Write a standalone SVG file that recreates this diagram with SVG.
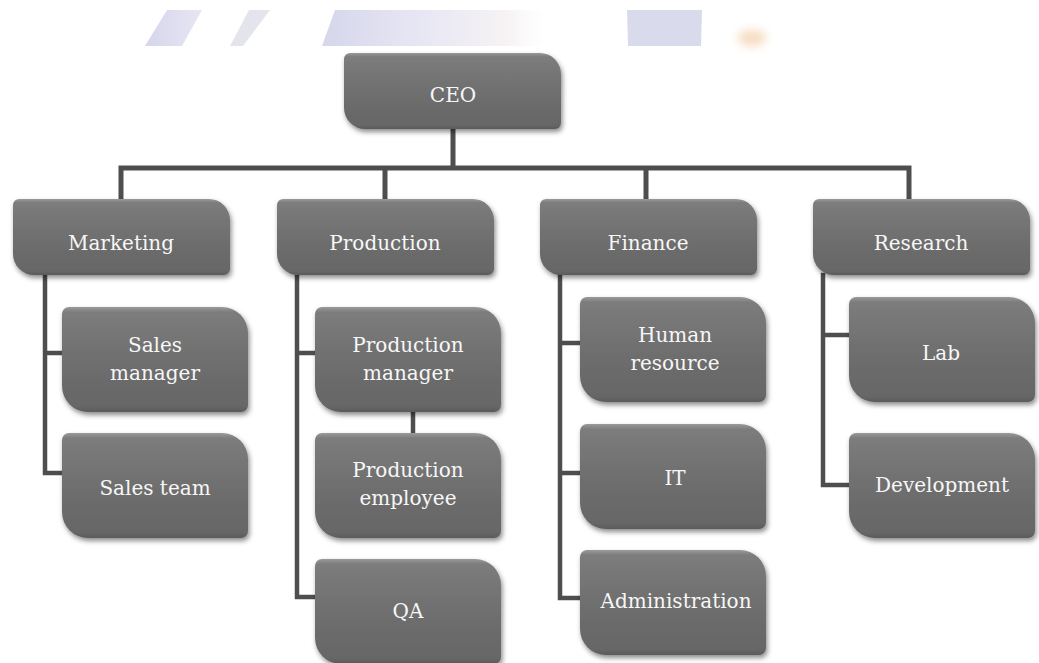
<svg xmlns="http://www.w3.org/2000/svg" xmlns:xlink="http://www.w3.org/1999/xlink" width="1039" height="663" viewBox="0 0 1039 663">
  <style>
    .lbl { font-family: "DejaVu Serif", "Liberation Serif", serif; font-size: 20px; fill: #f7f7f7; text-anchor: middle; }
    .box { fill: url(#boxFill); filter: url(#shadow); }
    .link { fill: none; stroke: #4e4e4e; stroke-width: 5; stroke-linecap: square; stroke-linejoin: miter; }
    .sublink { stroke-width: 4.5; }
  </style>
  <defs>
    <linearGradient id="boxFill" x1="0" y1="0" x2="0" y2="1">
      <stop offset="0" stop-color="#9a9a9a"/>
      <stop offset="0.05" stop-color="#7c7c7c"/>
      <stop offset="0.5" stop-color="#6f6f6f"/>
      <stop offset="0.95" stop-color="#666666"/>
      <stop offset="1" stop-color="#5a5a5a"/>
    </linearGradient>
    <filter id="shadow" x="-10%" y="-10%" width="125%" height="130%">
      <feDropShadow dx="1.5" dy="3" stdDeviation="2.5" flood-color="#000" flood-opacity="0.45"/>
    </filter>
    <filter id="soft" x="-50%" y="-50%" width="200%" height="200%">
      <feGaussianBlur stdDeviation="5"/>
    </filter>
    <linearGradient id="bandFade" x1="0" y1="0" x2="1" y2="0">
      <stop offset="0" stop-color="#d6d6ec"/>
      <stop offset="0.45" stop-color="#e8e8f4"/>
      <stop offset="0.8" stop-color="#f7f3f4"/>
      <stop offset="1" stop-color="#ffffff" stop-opacity="0"/>
    </linearGradient>
    <linearGradient id="stripeFade" x1="0" y1="0" x2="1" y2="0">
      <stop offset="0" stop-color="#d6d6ec"/>
      <stop offset="1" stop-color="#e6e6f3"/>
    </linearGradient>
    <!-- round-diagonal-corner shapes, drawn at the origin -->
    <path id="topShape" d="M6,0 H196 A21 21 0 0 1 217,21 V70 A6 6 0 0 1 211,76 H21 A21 21 0 0 1 0,55 V6 A6 6 0 0 1 6,0 Z"/>
    <path id="subShape" d="M7,0 H160 A26 26 0 0 1 186,26 V98 A7 7 0 0 1 179,105 H26 A26 26 0 0 1 0,79 V7 A7 7 0 0 1 7,0 Z"/>
  </defs>

  <rect width="1039" height="663" fill="#ffffff"/>

  <!-- faint banner strip along the top -->
  <g id="banner">
    <polygon points="145,46 167,10 202,10 182,46" fill="url(#stripeFade)"/>
    <polygon points="230,46 249,10 270,10 243,46" fill="#e4e4ec"/>
    <polygon points="322,46 335,10 540,10 556,46" fill="url(#bandFade)"/>
    <polygon points="628,46 627,10 702,10 701,46" fill="#dadaed"/>
    <ellipse cx="752" cy="38" rx="14" ry="8" fill="#f6dcc0" filter="url(#soft)"/>
  </g>

  <!-- connectors -->
  <g id="connectors">
    <path class="link" d="M453,129 V168 M121,168 H909 M121,168 V199 M385,168 V199 M646,168 V199 M909,168 V199"/>
    <path class="link sublink" d="M45,276 V473 H62 M45,353 H62"/>
    <path class="link sublink" d="M297,277 V597 H315 M297,353 H315 M413,412 V433"/>
    <path class="link sublink" d="M560,276 V598 H580 M560,343 H580 M560,473 H580"/>
    <path class="link sublink" d="M823,275 V485 H849 M823,335 H849"/>
  </g>

  <g id="ceo">
    <use xlink:href="#topShape" href="#topShape" x="344" y="53" class="box"/>
    <text class="lbl" x="453" y="102">CEO</text>
  </g>

  <g id="marketing">
    <use xlink:href="#topShape" href="#topShape" x="13" y="199" class="box"/>
    <text class="lbl" x="121" y="250">Marketing</text>
  </g>
  <g id="production">
    <use xlink:href="#topShape" href="#topShape" x="277" y="199" class="box"/>
    <text class="lbl" x="385" y="250">Production</text>
  </g>
  <g id="finance">
    <use xlink:href="#topShape" href="#topShape" x="540" y="199" class="box"/>
    <text class="lbl" x="648" y="250">Finance</text>
  </g>
  <g id="research">
    <use xlink:href="#topShape" href="#topShape" x="813" y="199" class="box"/>
    <text class="lbl" x="921" y="250">Research</text>
  </g>

  <g id="sales-manager">
    <use xlink:href="#subShape" href="#subShape" x="62" y="307" class="box"/>
    <text class="lbl" x="155" y="352">Sales</text>
    <text class="lbl" x="155" y="380">manager</text>
  </g>
  <g id="sales-team">
    <use xlink:href="#subShape" href="#subShape" x="62" y="433" class="box"/>
    <text class="lbl" x="155" y="495">Sales team</text>
  </g>

  <g id="production-manager">
    <use xlink:href="#subShape" href="#subShape" x="315" y="307" class="box"/>
    <text class="lbl" x="408" y="352">Production</text>
    <text class="lbl" x="408" y="380">manager</text>
  </g>
  <g id="production-employee">
    <use xlink:href="#subShape" href="#subShape" x="315" y="433" class="box"/>
    <text class="lbl" x="408" y="477">Production</text>
    <text class="lbl" x="408" y="505">employee</text>
  </g>
  <g id="qa">
    <use xlink:href="#subShape" href="#subShape" x="315" y="559" class="box"/>
    <text class="lbl" x="408" y="618">QA</text>
  </g>

  <g id="human-resource">
    <use xlink:href="#subShape" href="#subShape" x="580" y="297" class="box"/>
    <text class="lbl" x="675" y="342">Human</text>
    <text class="lbl" x="675" y="370">resource</text>
  </g>
  <g id="it">
    <use xlink:href="#subShape" href="#subShape" x="580" y="424" class="box"/>
    <text class="lbl" x="675" y="485">IT</text>
  </g>
  <g id="administration">
    <use xlink:href="#subShape" href="#subShape" x="580" y="550" class="box"/>
    <text class="lbl" x="676" y="608">Administration</text>
  </g>

  <g id="lab">
    <use xlink:href="#subShape" href="#subShape" x="849" y="297" class="box"/>
    <text class="lbl" x="941" y="360">Lab</text>
  </g>
  <g id="development">
    <use xlink:href="#subShape" href="#subShape" x="849" y="433" class="box"/>
    <text class="lbl" x="942" y="492">Development</text>
  </g>
</svg>
